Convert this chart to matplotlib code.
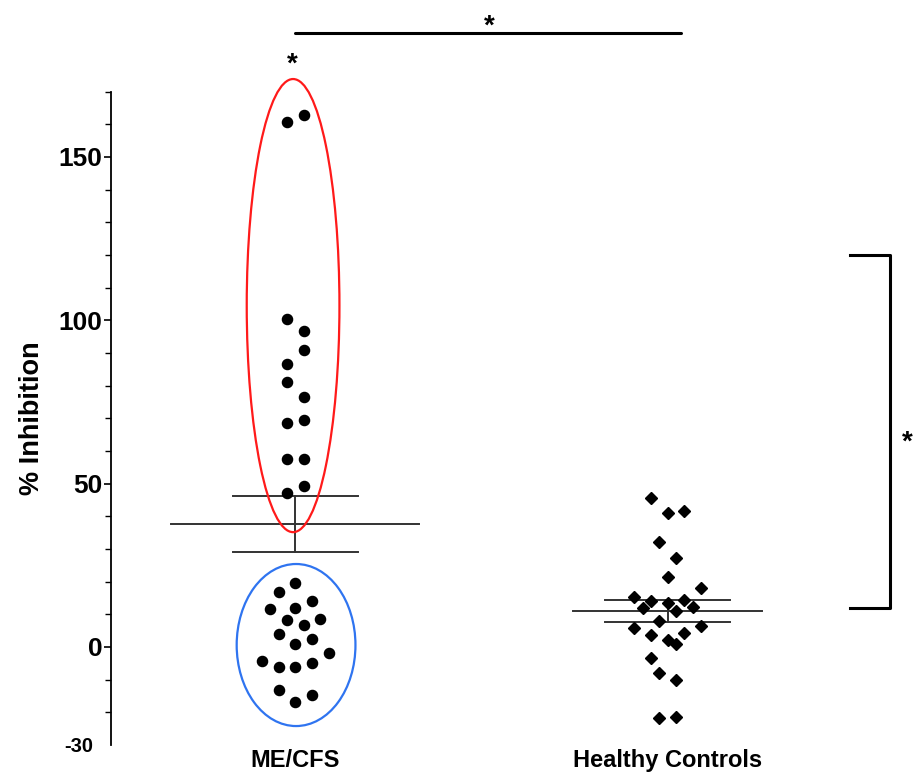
import numpy as np
import matplotlib.pyplot as plt
from matplotlib.patches import Ellipse
from matplotlib.ticker import MultipleLocator

# values (% inhibition)
groups = ['ME/CFS', 'Healthy Controls']

me_values = [160.6, 162.8, 100.4, 96.8, 90.9, 86.5, 81.0, 76.4, 69.5, 68.5,
             57.4, 57.4, 49.4, 47.2,
             19.7, 16.9, 14.2, 11.5, 11.8, 8.3, 8.6, 6.6, 3.9, 2.4, 0.8,
             -1.7, -4.2, -6.1, -6.2, -4.9, -13.3, -14.6, -16.9]
me_cols = [-1, 1, -1, 1, 1, -1, -1, 1, 1, -1,
           -1, 1, 1, -1,
           0, -2, 2, -3, 0, -1, 3, 1, -2, 2, 0,
           4, -4, -2, 0, 2, -2, 2, 0]

hc_values = [45.5, 40.9, 41.6, 32.2, 27.1, 21.5, 18.2, 15.4, 14.1, 13.4,
             14.4, 11.8, 12.3, 11.1, 8.0, 5.9, 6.4, 3.7, 4.2, 2.1,
             0.8, -3.5, -8.1, -10.2, -21.8, -21.3]
hc_cols = [-2, 0, 2, -1, 1, 0, 4, -4, -2, 0,
           2, -3, 3, 1, -1, -4, 4, -2, 2, 0,
           1, -2, -1, 1, -1, 1]

plt.rcParams['font.family'] = ['Liberation Sans', 'DejaVu Sans']
plt.rcParams['font.weight'] = 'bold'

fig = plt.figure(figsize=(9.16, 7.81), dpi=100)
ax = fig.add_axes([0.1212, 0.0461, 0.8788, 0.8366])
ax.set_xlim(0.505, 2.667)
ax.set_ylim(-30, 170)

step = 0.0223  # horizontal spacing of the scatter columns

me_x = 1 + step * np.array(me_cols)
hc_x = 2 + step * np.array(hc_cols)
ax.plot(me_x, me_values, 'o', color='black', markersize=7.3, zorder=3)
ax.plot(hc_x, hc_values, 'D', color='black', markersize=6.6, zorder=3)

# mean +/- SEM
err_col = '#333333'
for pos, vals, half in [(1, me_values, 0.333), (2, hc_values, 0.253)]:
    v = np.array(vals)
    m = v.mean()
    sem = v.std(ddof=1) / np.sqrt(len(v))
    ax.plot([pos - half, pos + half], [m, m], color=err_col, lw=1.4, zorder=2)
    ax.plot([pos - 0.168, pos + 0.168], [m + sem, m + sem], color=err_col, lw=1.4, zorder=2)
    ax.plot([pos - 0.168, pos + 0.168], [m - sem, m - sem], color=err_col, lw=1.4, zorder=2)
    ax.plot([pos, pos], [m - sem, m + sem], color=err_col, lw=1.4, zorder=2)

# highlighted subgroups
ax.add_patch(Ellipse((0.994, 104.5), 0.249, 138.7, fill=False,
                     edgecolor='#ff1a1a', lw=1.6, zorder=4, clip_on=False))
ax.add_patch(Ellipse((1.002, 0.6), 0.319, 49.6, fill=False,
                     edgecolor='#2f74f0', lw=1.6, zorder=4, clip_on=False))

# significance marks
ax.plot([1.0, 2.035], [187.9, 187.9], color='black', lw=2.2, clip_on=False,
        solid_capstyle='round')
ax.text(1.522, 190.0, '*', ha='center', va='center', fontsize=20, clip_on=False)
ax.text(0.992, 178.4, '*', ha='center', va='center', fontsize=20, clip_on=False)

ax.plot([2.49, 2.597, 2.597, 2.49], [120.0, 120.0, 11.9, 11.9], color='black',
        lw=2.2, clip_on=False)
ax.text(2.643, 62.5, '*', ha='center', va='center', fontsize=20, clip_on=False)

# axes styling
for side in ['top', 'right', 'bottom']:
    ax.spines[side].set_visible(False)
ax.spines['left'].set_linewidth(1.3)

ax.set_yticks([-30, 0, 50, 100, 150])
ax.set_yticklabels(['-30', '0', '50', '100', '150'])
ax.yaxis.set_minor_locator(MultipleLocator(10))
ax.tick_params(axis='y', which='major', length=5, width=1.2, pad=1, labelsize=19)
ax.tick_params(axis='y', which='minor', length=4, width=1.0)
ax.yaxis.get_major_ticks()[0].tick1line.set_visible(False)
ylabels = ax.get_yticklabels()
ylabels[0].set_fontsize(14.5)
ylabels[0].set_x(-0.012)

ax.set_xticks([1, 2])
ax.set_xticklabels(groups, fontsize=17)
ax.tick_params(axis='x', length=0, pad=3)

ax.set_ylabel('% Inhibition', fontsize=19.5, fontweight='bold', labelpad=10)

fig.savefig('out.png', dpi=100)
